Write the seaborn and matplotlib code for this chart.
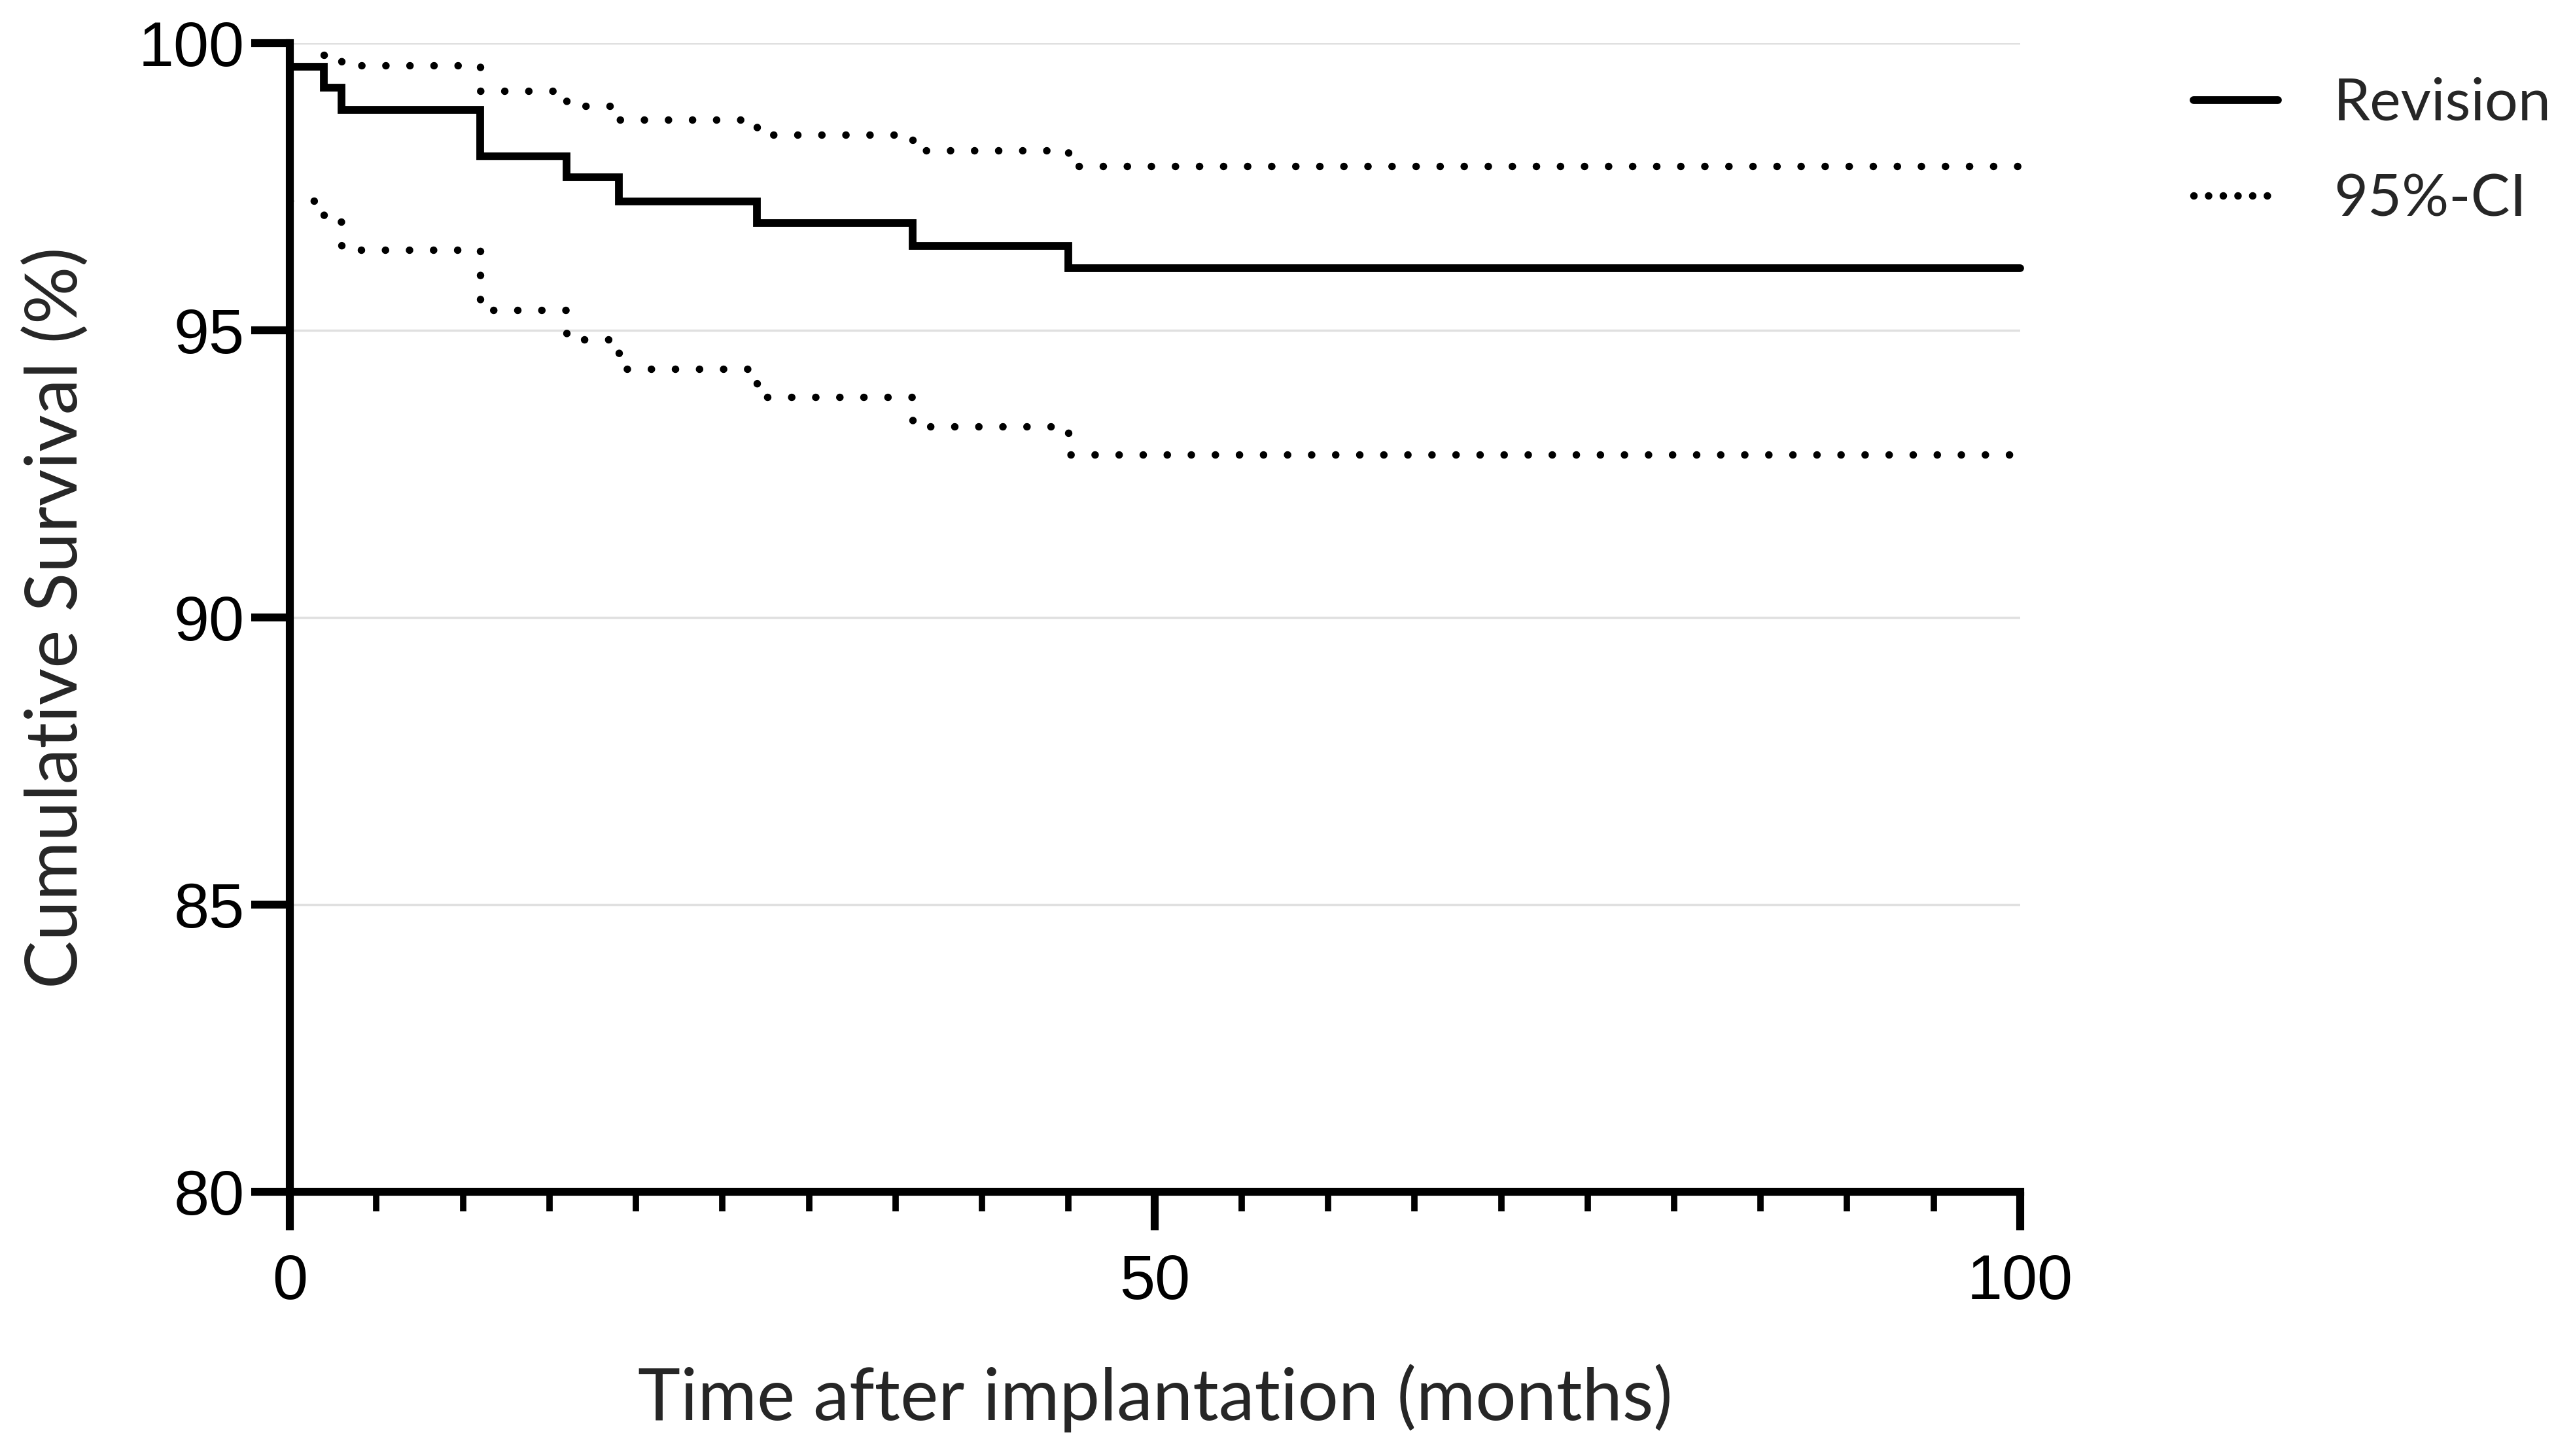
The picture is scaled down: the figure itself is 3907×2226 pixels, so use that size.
import matplotlib
matplotlib.use("Agg")
import matplotlib.pyplot as plt
import seaborn as sns
import pandas as pd
from matplotlib.lines import Line2D

# ---- data ----
surv_time = [0, 0, 1.97, 3.0, 11.0, 16.0, 19.0, 27.0, 36.0, 45.0, 100]
surv_pct = [100, 99.59, 99.22, 98.84, 98.03, 97.66, 97.24, 96.87, 96.47, 96.08, 96.08]

upper_time = [1.97, 3.0, 11.0, 16.0, 19.0, 27.0, 36.0, 45.0, 100]
upper_pct = [99.79, 99.61, 99.17, 98.91, 98.67, 98.40, 98.13, 97.86, 97.86]

lower_time = [0, 1.97, 3.0, 11.0, 16.0, 19.0, 27.0, 36.0, 45.0, 100]
lower_pct = [97.25, 96.89, 96.40, 95.35, 94.84, 94.33, 93.84, 93.33, 92.84, 92.84]

y_ticks = [80, 85, 90, 95, 100]
x_ticks = [0, 50, 100]
legend_labels = ["Revision", "95%-CI"]

sns.set_style("white")
plt.rcParams["font.family"] = ["Liberation Sans", "DejaVu Sans"]

DPI = 250
W, H = 3907, 2226
fig = plt.figure(figsize=(W / DPI, H / DPI), dpi=DPI)
ax = fig.add_axes([443 / W, 1 - 1822 / H, (3088 - 443) / W, (1822 - 66) / H])

df_s = pd.DataFrame({"t": surv_time, "v": surv_pct})
df_u = pd.DataFrame({"t": upper_time, "v": upper_pct})
df_l = pd.DataFrame({"t": lower_time, "v": lower_pct})

LW_DOT = 3.3
DOTS = (0, (0.01, 3.2))
dot_kw = dict(color="black", lw=LW_DOT, linestyle=DOTS, dash_capstyle="round",
              drawstyle="steps-post", clip_on=False, zorder=3)
sns.lineplot(data=df_u, x="t", y="v", ax=ax, estimator=None, sort=False, **dot_kw)
sns.lineplot(data=df_l, x="t", y="v", ax=ax, estimator=None, sort=False, **dot_kw)
sns.lineplot(data=df_s, x="t", y="v", ax=ax, estimator=None, sort=False, color="black",
             lw=3.4, drawstyle="steps-post", clip_on=False, zorder=4, solid_joinstyle="miter")

ax.set_xlim(0, 100)
ax.set_ylim(80, 100)
ax.set_yticks(y_ticks)
ax.set_xticks(x_ticks)
ax.set_xticks(list(range(5, 100, 5)), minor=True)
ax.set_xticklabels([str(v) for v in x_ticks])
ax.set_yticklabels([str(v) for v in y_ticks])

for side in ["top", "right"]:
    ax.spines[side].set_visible(False)
for side in ["left", "bottom"]:
    ax.spines[side].set_linewidth(3.5)
    ax.spines[side].set_color("black")
    ax.spines[side].set_zorder(5)

ax.yaxis.grid(True, color="#e0e0e0", lw=1.0, zorder=0)
ax.xaxis.grid(False)
ax.set_axisbelow(True)

ax.tick_params(axis="both", which="major", direction="out", length=17, width=3.5,
               color="black", labelsize=28, labelcolor="black")
ax.tick_params(axis="x", which="major", pad=10)
ax.tick_params(axis="y", which="major", pad=3)
ax.tick_params(axis="x", which="minor", direction="out", length=8.5, width=2.8,
               color="black", bottom=True)
ax.tick_params(left=True, bottom=True)

LABEL_FAMILY = ["Lato", "Open Sans", "DejaVu Sans"]
label_font = dict(family=LABEL_FAMILY, weight="normal", size=31.7)
ax.set_xlabel("Time after implantation (months)", **label_font, va="center")
ax.set_ylabel("Cumulative Survival (%)", **label_font, va="center")
ax.xaxis.set_label_coords(0.5, -0.1795)
ax.yaxis.set_label_coords(-0.1346, 0.5)

# size the legend text so "Revision" spans about the same width as in the reference
renderer = fig.canvas.get_renderer()
probe = fig.text(0, 0, legend_labels[0], family=LABEL_FAMILY, weight="normal", size=33)
w_probe = probe.get_window_extent(renderer).width
probe.remove()
leg_size = 33 * 333 / w_probe

handles = [Line2D([], [], color="black", lw=3.4),
           Line2D([], [], color="black", lw=LW_DOT, linestyle=(0, (0.01, 1.95)),
                  dash_capstyle="round")]
em = leg_size * DPI / 72
leg = fig.legend(handles, legend_labels, loc="upper left",
                 bbox_to_anchor=(3353 / W, 1 - 118 / H), frameon=False,
                 borderpad=0, borderaxespad=0, handlelength=129 / em,
                 handletextpad=85 / em, labelspacing=0.72,
                 prop={"family": LABEL_FAMILY, "weight": "normal", "size": leg_size})

fig.savefig("out.png", dpi=DPI, facecolor="white")
